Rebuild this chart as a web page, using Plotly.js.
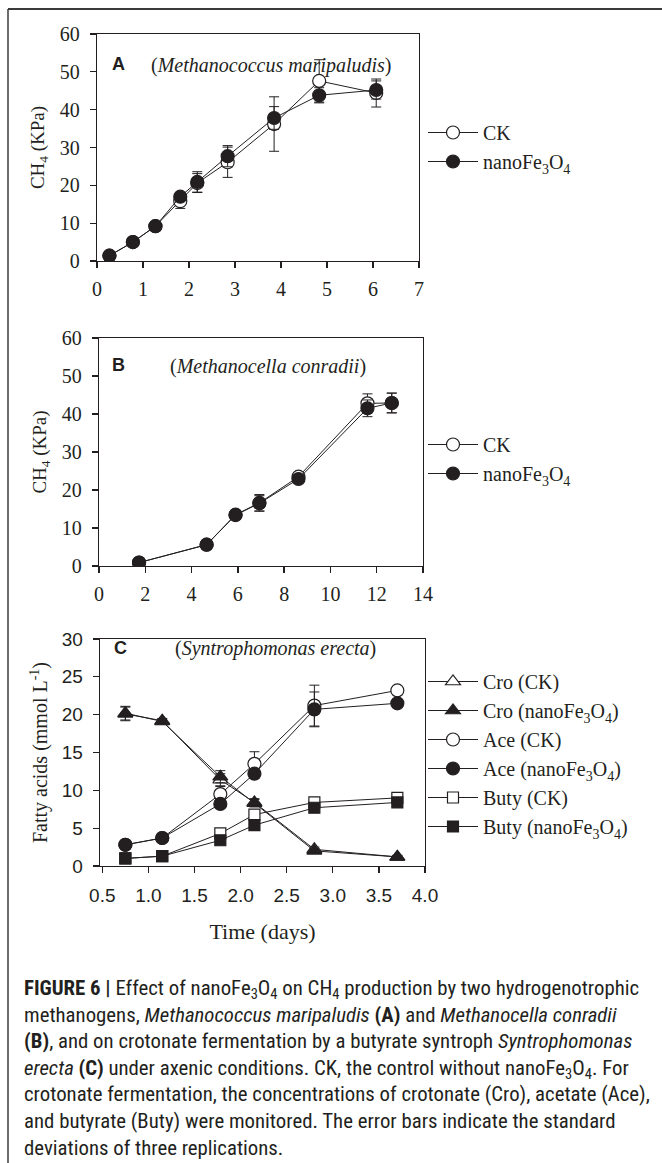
<!DOCTYPE html>
<html>
<head>
<meta charset="utf-8">
<script src="https://cdn.plot.ly/plotly-3.0.1.min.js"></script>
<style>
  html, body { margin: 0; padding: 0; background: #fff; }
  #wrap { position: relative; width: 662px; height: 1163px; overflow: hidden; }
  #chart { position: absolute; left: 0; top: 0; width: 662px; height: 1163px; }
  #caption { position: absolute; left: 24px; top: 975px; font-family: "Liberation Sans Narrow", "Roboto Condensed", "Liberation Sans", Arial, sans-serif; font-size: 20.8px; color: #231f20; }
  #caption div { white-space: nowrap; height: 26.6px; line-height: 26.6px; }
  #caption sub { font-size: 70%; vertical-align: -0.25em; line-height: 0; }
</style>
</head>
<body>
<div id="wrap">
<div id="chart"></div>
<div id="caption">
<div><b>FIGURE 6 |</b> Effect of nanoFe<sub>3</sub>O<sub>4</sub> on CH<sub>4</sub> production by two hydrogenotrophic</div>
<div>methanogens, <i>Methanococcus maripaludis</i> <b>(A)</b> and <i>Methanocella conradii</i></div>
<div><b>(B)</b>, and on crotonate fermentation by a butyrate syntroph <i>Syntrophomonas</i></div>
<div><i>erecta</i> <b>(C)</b> under axenic conditions. CK, the control without nanoFe<sub>3</sub>O<sub>4</sub>. For</div>
<div>crotonate fermentation, the concentrations of crotonate (Cro), acetate (Ace),</div>
<div>and butyrate (Buty) were monitored. The error bars indicate the standard</div>
<div>deviations of three replications.</div>
</div>
</div>
<script>
// ---------- Data ----------
// Panel A: Methanococcus maripaludis
const daysA = [0.27, 0.78, 1.27, 1.81, 2.18, 2.84, 3.85, 4.83, 6.07];
const ckA = [1.4, 5.0, 9.2, 15.8, 20.6, 26.1, 36.2, 47.6, 44.4];
const ckAerr = [0.3, 0.3, 0.4, 1.9, 2.5, 4.0, 7.2, 5.6, 3.7];
const nanoA = [1.4, 5.0, 9.2, 17.0, 20.9, 27.7, 37.8, 43.8, 45.2];
const nanoAerr = [0.3, 0.3, 0.4, 1.0, 2.7, 2.8, 3.0, 2.0, 2.4];

// Panel B: Methanocella conradii
const daysB = [1.73, 4.65, 5.9, 6.93, 8.62, 11.6, 12.65];
const ckB = [0.9, 5.6, 13.5, 16.6, 23.5, 42.8, 42.9];
const ckBerr = [0.2, 0.5, 1.0, 2.2, 1.0, 2.5, 2.6];
const nanoB = [0.9, 5.6, 13.4, 16.5, 22.9, 41.5, 42.9];
const nanoBerr = [0.2, 0.5, 1.0, 2.0, 1.0, 2.2, 2.6];

// Panel C: Syntrophomonas erecta
const daysC = [0.75, 1.15, 1.78, 2.15, 2.8, 3.7];
const croCK = [20.1, 19.2, 11.4, 8.4, 2.2, 1.2];
const croCKerr = [0.9, 0.3, 0.8, 0.5, 0.3, 0.2];
const croNano = [20.2, 19.1, 11.8, 8.3, 2.0, 1.2];
const croNanoerr = [0.9, 0.3, 0.8, 0.5, 0.3, 0.2];
const aceCK = [2.8, 3.7, 9.5, 13.5, 21.2, 23.2];
const aceCKerr = [0.2, 0.3, 1.0, 1.6, 2.7, 0.4];
const aceNano = [2.8, 3.7, 8.2, 12.2, 20.7, 21.5];
const aceNanoerr = [0.2, 0.3, 0.5, 0.6, 2.3, 0.5];
const butyCK = [1.0, 1.3, 4.3, 6.8, 8.4, 9.0];
const butyCKerr = [0.1, 0.1, 0.3, 0.4, 0.3, 0.3];
const butyNano = [1.0, 1.3, 3.4, 5.4, 7.7, 8.4];
const butyNanoerr = [0.1, 0.1, 0.3, 0.3, 0.3, 0.3];

// Labels
const labelCK = 'CK';
const labelNano = 'nanoFe<sub>3</sub>O<sub>4</sub>';
const labelsC = ['Cro (CK)', 'Cro (nanoFe<sub>3</sub>O<sub>4</sub>)', 'Ace (CK)', 'Ace (nanoFe<sub>3</sub>O<sub>4</sub>)', 'Buty (CK)', 'Buty (nanoFe<sub>3</sub>O<sub>4</sub>)'];
const ticksC = [0.5, 1.0, 1.5, 2.0, 2.5, 3.0, 3.5, 4.0];
const tickTextC = ['0.5', '1.0', '1.5', '2.0', '2.5', '3.0', '3.5', '4.0'];

// ---------- Layout helpers ----------
const W = 662, H = 1163;
const X = px => px / W;
const Y = py => 1 - py / H;
const SERIF = '"Liberation Serif", "Times New Roman", Times, serif';
const SANS = '"Liberation Sans", Arial, Helvetica, sans-serif';
const INK = '#231f20';

function eb(arr) {
  return { type: 'data', array: arr, visible: true, color: INK, thickness: 1, width: 5 };
}
function tr(x, y, err, name, symbol, fill, xa, ya, leg, size) {
  return {
    x: x, y: y, name: name, type: 'scatter', mode: 'lines+markers',
    xaxis: xa, yaxis: ya, legend: leg,
    line: { color: INK, width: 1 },
    marker: { symbol: symbol, size: size || 13, color: fill, line: { color: INK, width: 1.2 } },
    error_y: eb(err)
  };
}

const traces = [
  tr(daysA, ckA, ckAerr, labelCK, 'circle', '#ffffff', 'x', 'y', 'legend'),
  tr(daysA, nanoA, nanoAerr, labelNano, 'circle', INK, 'x', 'y', 'legend'),
  tr(daysB, ckB, ckBerr, labelCK, 'circle', '#ffffff', 'x2', 'y2', 'legend2'),
  tr(daysB, nanoB, nanoBerr, labelNano, 'circle', INK, 'x2', 'y2', 'legend2'),
  tr(daysC, croCK, croCKerr, labelsC[0], 'triangle-up', '#ffffff', 'x3', 'y3', 'legend3', 13),
  tr(daysC, croNano, croNanoerr, labelsC[1], 'triangle-up', INK, 'x3', 'y3', 'legend3', 13),
  tr(daysC, aceCK, aceCKerr, labelsC[2], 'circle', '#ffffff', 'x3', 'y3', 'legend3', 13),
  tr(daysC, aceNano, aceNanoerr, labelsC[3], 'circle', INK, 'x3', 'y3', 'legend3', 13),
  tr(daysC, butyCK, butyCKerr, labelsC[4], 'square', '#ffffff', 'x3', 'y3', 'legend3', 11),
  tr(daysC, butyNano, butyNanoerr, labelsC[5], 'square', INK, 'x3', 'y3', 'legend3', 11)
];

function axis(extra) {
  return Object.assign({
    showline: true, mirror: true, linecolor: INK, linewidth: 1.3,
    ticks: 'outside', ticklen: 6, tickwidth: 1.3, tickcolor: INK,
    showgrid: false, zeroline: false, fixedrange: true,
    tickfont: { family: SERIF, size: 20, color: INK }
  }, extra);
}

function legend(xpx, ypx) {
  return {
    x: X(xpx), xanchor: 'left', y: Y(ypx), yanchor: 'top',
    bgcolor: 'rgba(0,0,0,0)', borderwidth: 0,
    font: { family: SERIF, size: 20, color: INK },
    itemwidth: 50, tracegroupgap: 0, traceorder: 'normal'
  };
}

const layout = {
  width: W, height: H,
  margin: { l: 0, r: 0, t: 0, b: 0 },
  paper_bgcolor: '#ffffff', plot_bgcolor: '#ffffff',
  showlegend: true,
  font: { family: SERIF, color: INK },
  xaxis: axis({ domain: [X(97), X(419)], range: [0, 7], dtick: 1, tick0: 0, anchor: 'y', ticklabelstandoff: 4 }),
  yaxis: axis({ domain: [Y(261), Y(34)], range: [0, 60], dtick: 10, anchor: 'x', ticklabelstandoff: 6,
    title: { text: 'CH<sub>4</sub> (KPa)', font: { family: SERIF, size: 19, color: INK }, standoff: 10 } }),
  xaxis2: axis({ domain: [X(99), X(423)], range: [0, 14], dtick: 2, tick0: 0, anchor: 'y2', ticklabelstandoff: 4 }),
  yaxis2: axis({ domain: [Y(566), Y(338)], range: [0, 60], dtick: 10, anchor: 'x2', ticklabelstandoff: 6,
    title: { text: 'CH<sub>4</sub> (KPa)', font: { family: SERIF, size: 19, color: INK }, standoff: 10 } }),
  xaxis3: axis({ domain: [X(100), X(425)], range: [0.475, 4.0], tickvals: ticksC, ticktext: tickTextC, anchor: 'y3',
    tickfont: { family: SANS, size: 19, color: INK }, ticklabelstandoff: 6,
    title: { text: 'Time (days)', font: { family: SERIF, size: 22, color: INK }, standoff: 18 } }),
  yaxis3: axis({ domain: [Y(866), Y(639)], range: [0, 30], dtick: 5, anchor: 'x3', ticklabelstandoff: 6,
    tickfont: { family: SANS, size: 19, color: INK },
    title: { text: 'Fatty acids (mmol L<sup>-1</sup>)', font: { family: SERIF, size: 20, color: INK }, standoff: 8 } }),
  legend: legend(423, 113),
  legend2: legend(423, 425),
  legend3: legend(423, 662),
  annotations: [
    { xref: 'paper', yref: 'paper', x: X(110), y: Y(52), text: '<b>A</b>', showarrow: false, font: { family: SANS, size: 18, color: INK } },
    { xref: 'paper', yref: 'paper', x: X(271), y: Y(52), text: '(<i>Methanococcus maripaludis</i>)', showarrow: false, font: { family: SERIF, size: 20, color: INK } },
    { xref: 'paper', yref: 'paper', x: X(110), y: Y(353), text: '<b>B</b>', showarrow: false, font: { family: SANS, size: 18, color: INK } },
    { xref: 'paper', yref: 'paper', x: X(268), y: Y(353), text: '(<i>Methanocella conradii</i>)', showarrow: false, font: { family: SERIF, size: 20, color: INK } },
    { xref: 'paper', yref: 'paper', x: X(112), y: Y(648), text: '<b>C</b>', showarrow: false, font: { family: SANS, size: 18, color: INK } },
    { xref: 'paper', yref: 'paper', x: X(275), y: Y(648), text: '(<i>Syntrophomonas erecta</i>)', showarrow: false, font: { family: SERIF, size: 20, color: INK } }
  ],
  shapes: [
    { type: 'line', xref: 'paper', yref: 'paper', x0: X(8), x1: 1, y0: Y(9), y1: Y(9), line: { color: '#3a3a3a', width: 2 } },
    { type: 'line', xref: 'paper', yref: 'paper', x0: X(8), x1: X(8), y0: Y(9), y1: 0, line: { color: '#3a3a3a', width: 1.5 } }
  ]
};

Plotly.newPlot('chart', traces, layout, { displayModeBar: false, staticPlot: true });
</script>
</body>
</html>
